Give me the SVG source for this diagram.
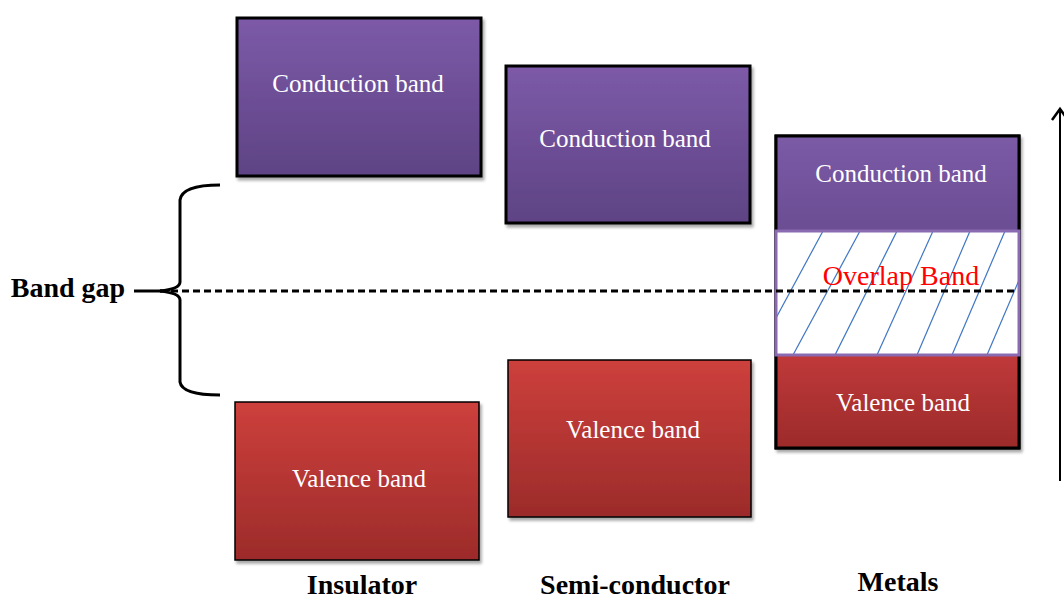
<svg xmlns="http://www.w3.org/2000/svg" width="1064" height="598" viewBox="0 0 1064 598">
<defs>
<linearGradient id="gp" x1="0" y1="0" x2="0" y2="1"><stop offset="0" stop-color="#7c5aa8"/><stop offset="1" stop-color="#5e4384"/></linearGradient>
<linearGradient id="gr" x1="0" y1="0" x2="0" y2="1"><stop offset="0" stop-color="#cd403c"/><stop offset="1" stop-color="#9c2b2a"/></linearGradient>
<linearGradient id="gmp" x1="0" y1="0" x2="0" y2="1"><stop offset="0" stop-color="#7b5aa6"/><stop offset="1" stop-color="#6a4d93"/></linearGradient>
<linearGradient id="gmr" x1="0" y1="0" x2="0" y2="1"><stop offset="0" stop-color="#c0393a"/><stop offset="1" stop-color="#9c2b2a"/></linearGradient>
<filter id="sh" x="-5%" y="-5%" width="112%" height="115%"><feGaussianBlur in="SourceAlpha" stdDeviation="1.5"/><feOffset dx="2" dy="3"/><feComponentTransfer><feFuncA type="linear" slope="0.35"/></feComponentTransfer><feMerge><feMergeNode/><feMergeNode in="SourceGraphic"/></feMerge></filter>
<clipPath id="ov"><rect x="776" y="231" width="243" height="124"/></clipPath>
<marker id="ah" viewBox="0 0 24 24" refX="18" refY="12" markerWidth="24" markerHeight="24" markerUnits="userSpaceOnUse" orient="auto"><path d="M7,4 L18,12 L7,20" fill="none" stroke="#000" stroke-width="2.5"/></marker>
</defs>
<style>
.bt{font-family:"Liberation Serif","Times New Roman",serif;font-size:25px;fill:#fff;text-anchor:middle}
.lb{font-family:"Liberation Serif","Times New Roman",serif;font-size:28px;font-weight:bold;fill:#000;text-anchor:middle}
.thick{stroke:#000;stroke-width:3}
.thin{stroke:#000;stroke-width:1.5}
.hatch{stroke:#3f76c4;stroke-width:1.2}
</style>
<rect width="1064" height="598" fill="#fff"/>
<g id="insulator-conduction"><rect x="237" y="18" width="244" height="158" fill="url(#gp)" class="thick" filter="url(#sh)"/><text class="bt" x="358" y="92">Conduction band</text></g>
<g id="insulator-valence"><rect x="235" y="402" width="244" height="158" fill="url(#gr)" class="thin" filter="url(#sh)"/><text class="bt" x="359" y="487">Valence band</text></g>
<g id="semi-conduction"><rect x="506" y="66" width="244" height="157" fill="url(#gp)" class="thick" filter="url(#sh)"/><text class="bt" x="625" y="147">Conduction band</text></g>
<g id="semi-valence"><rect x="508" y="360" width="243" height="157" fill="url(#gr)" class="thin" filter="url(#sh)"/><text class="bt" x="633" y="438">Valence band</text></g>
<g id="metal">
<rect x="776" y="136" width="243" height="312" fill="#fff" class="thick" filter="url(#sh)"/>
<rect x="777" y="137" width="241" height="94" fill="url(#gmp)"/>
<rect x="777" y="355" width="241" height="92" fill="url(#gmr)"/>
<rect x="776" y="136" width="243" height="312" fill="none" class="thick"/>
<text class="bt" x="901" y="182">Conduction band</text>
<text class="bt" x="903" y="411">Valence band</text>
</g>
<g id="overlap">
<rect x="776" y="231" width="243" height="124" fill="#fff"/>
<g clip-path="url(#ov)">
<line class="hatch" x1="756" y1="355" x2="823" y2="231"/>
<line class="hatch" x1="793" y1="355" x2="860" y2="231"/>
<line class="hatch" x1="835" y1="355" x2="897" y2="231"/>
<line class="hatch" x1="877" y1="355" x2="933" y2="231"/>
<line class="hatch" x1="917" y1="355" x2="970" y2="231"/>
<line class="hatch" x1="952" y1="355" x2="1005" y2="231"/>
<line class="hatch" x1="987" y1="355" x2="1040" y2="231"/>
</g>
<rect x="776" y="231" width="243" height="124" fill="none" stroke="#8a6bb2" stroke-width="3"/>
<text x="901" y="285" text-anchor="middle" font-family="'Liberation Serif','Times New Roman',serif" font-size="28" fill="#ff0000">Overlap Band</text>
</g>
<g id="connectors">
<line x1="160" y1="291" x2="1016" y2="291" stroke="#000" stroke-width="3" stroke-dasharray="7,4"/>
<line x1="134" y1="291" x2="162" y2="291" stroke="#000" stroke-width="3"/>
<path d="M220,185 Q182,185 180,200 L180,282 Q180,289 160,291 Q180,293 180,300 L180,382 Q182,395 220,395" fill="none" stroke="#000" stroke-width="3"/>
<line x1="1060" y1="481" x2="1060" y2="109" stroke="#000" stroke-width="2" marker-end="url(#ah)"/>
</g>
<g id="labels">
<text class="lb" x="68" y="297">Band gap</text>
<text class="lb" x="362" y="594">Insulator</text>
<text class="lb" x="635" y="594">Semi-conductor</text>
<text class="lb" x="898" y="591">Metals</text>
</g>
</svg>
